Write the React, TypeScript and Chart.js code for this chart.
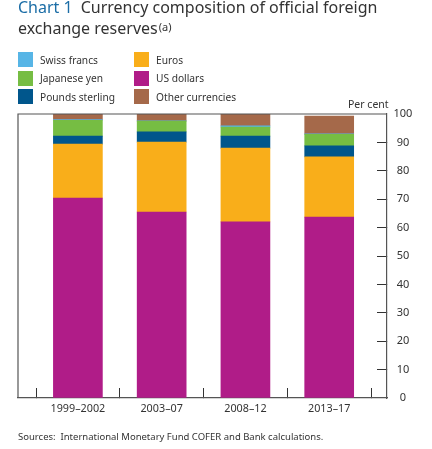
import React, { useEffect, useRef } from 'react';
import { Chart, registerables } from 'chart.js';

Chart.register(...registerables);

const categories = ['1999–2002', '2003–07', '2008–12', '2013–17'];
const usDollars = [70.4, 65.5, 62.0, 63.7];
const euros = [19.0, 24.6, 26.0, 21.2];
const poundsSterling = [2.8, 3.6, 4.2, 3.9];
const japaneseYen = [5.6, 3.8, 3.2, 4.0];
const swissFrancs = [0.2, 0.1, 0.4, 0.2];
const otherCurrencies = [2.0, 2.4, 4.2, 6.3];
const yTickValues = [0, 10, 20, 30, 40, 50, 60, 70, 80, 90, 100];

const seriesNames = ['US dollars', 'Euros', 'Pounds sterling', 'Japanese yen', 'Swiss francs', 'Other currencies'];
const seriesValues = [usDollars, euros, poundsSterling, japaneseYen, swissFrancs, otherCurrencies];
const seriesColors = ['#B01C88', '#F9AE1A', '#00568C', '#76BD43', '#57B5E6', '#A5694A'];

// legend layout: column-major, as in the reference
const legendColumns = [
  ['Swiss francs', 'Japanese yen', 'Pounds sterling'],
  ['Euros', 'US dollars', 'Other currencies'],
];

const FONT = "'Noto Sans', 'Open Sans', sans-serif";

const framePlugin = {
  id: 'frame',
  afterDatasetsDraw(chart: any) {
    const { ctx, chartArea } = chart;
    ctx.save();
    ctx.strokeStyle = '#555';
    ctx.lineWidth = 1.2;
    ctx.beginPath();
    ctx.moveTo(chartArea.left, chartArea.bottom);
    ctx.lineTo(chartArea.left, chartArea.top);
    ctx.lineTo(chartArea.right, chartArea.top);
    ctx.stroke();
    ctx.restore();
  },
};

export default function App() {
  const canvasRef = useRef<HTMLCanvasElement | null>(null);

  useEffect(() => {
    document.body.style.margin = '0';
    const canvas = canvasRef.current;
    if (!canvas) return;
    const chart = new Chart(canvas, {
      type: 'bar',
      data: {
        datasets: seriesNames.map((name, s) => ({
          label: name,
          data: seriesValues[s].map((v, i) => ({ x: i, y: v })),
          backgroundColor: seriesColors[s],
          borderWidth: 0,
          barThickness: 49,
        })),
      },
      options: {
        animation: false,
        responsive: false,
        devicePixelRatio: 1,
        layout: { padding: { left: 18, top: 114, right: 0, bottom: 0 } },
        plugins: { legend: { display: false }, tooltip: { enabled: false } },
        scales: {
          x: {
            type: 'linear',
            stacked: true,
            offset: false,
            min: -0.715,
            max: 3.69,
            afterBuildTicks: (scale: any) => {
              const t: any[] = [];
              for (let i = 0; i < categories.length; i++) {
                t.push({ value: i - 0.5 });
                t.push({ value: i });
              }
              t.push({ value: categories.length - 0.5 });
              scale.ticks = t;
            },
            afterFit: (scale: any) => {
              scale.height = 51;
            },
            ticks: {
              autoSkip: false,
              maxRotation: 0,
              padding: 14,
              color: '#333',
              font: { family: FONT, size: 10.8 },
              callback: (v: any) => (Number.isInteger(v) ? categories[v] : ''),
            },
            grid: {
              offset: false,
              drawOnChartArea: false,
              drawTicks: true,
              tickLength: -10,
              lineWidth: 1,
              tickColor: (ctx: any) =>
                ctx.tick && Number.isInteger(ctx.tick.value) ? 'rgba(0,0,0,0)' : '#333',
            },
            border: { display: true, color: '#555', width: 1.2 },
          },
          y: {
            position: 'right',
            stacked: true,
            min: 0,
            max: 100,
            afterBuildTicks: (scale: any) => {
              scale.ticks = yTickValues.map((v) => ({ value: v }));
            },
            afterFit: (scale: any) => {
              scale.width = 45;
            },
            ticks: {
              padding: 16.5,
              crossAlign: 'center',
              color: '#333',
              font: { family: FONT, size: 11 },
            },
            grid: {
              drawOnChartArea: false,
              drawTicks: true,
              tickLength: -10,
              lineWidth: 1,
              tickColor: (ctx: any) =>
                ctx.tick && (ctx.tick.value === 100 || ctx.tick.value === 0) ? 'rgba(0,0,0,0)' : '#333',
            },
            border: { display: true, color: '#555', width: 1.2 },
          },
        },
      },
      plugins: [framePlugin],
    } as any);
    return () => chart.destroy();
  }, []);

  const colorOf = (name: string) => seriesColors[seriesNames.indexOf(name)];

  return (
    <div style={{ position: 'relative', width: 432, height: 449, background: '#fff', fontFamily: FONT, overflow: 'hidden' }}>
      <canvas ref={canvasRef} width={432} height={449} style={{ position: 'absolute', left: 0, top: 0 }} />
      <div style={{ position: 'absolute', left: 18, top: -3, fontSize: 16, lineHeight: '20.5px', color: '#333', whiteSpace: 'nowrap' }}>
        <span style={{ color: '#1B6DA6' }}>Chart 1</span>
        {'\u2002'}Currency composition of official foreign
        <br />
        exchange reserves
        <span style={{ fontSize: 11, position: 'relative', top: -3, marginLeft: 1 }}>(a)</span>
      </div>
      {legendColumns.map((col, c) => (
        <div key={c} style={{ position: 'absolute', left: c === 0 ? 18 : 134, top: 52 }}>
          {col.map((name) => (
            <div key={name} style={{ display: 'flex', alignItems: 'center', height: 15, marginBottom: 3.5 }}>
              <div style={{ width: 15, height: 15, background: colorOf(name), flex: 'none' }} />
              <span style={{ marginLeft: 7, fontSize: 10.2, color: '#333', whiteSpace: 'nowrap' }}>{name}</span>
            </div>
          ))}
        </div>
      ))}
      <div style={{ position: 'absolute', left: 348, top: 97, fontSize: 10.5, color: '#333', whiteSpace: 'nowrap' }}>Per cent</div>
      <div style={{ position: 'absolute', left: 18, top: 430, fontSize: 9.5, color: '#333', whiteSpace: 'pre' }}>
        {'Sources:  International Monetary Fund COFER and Bank calculations.'}
      </div>
    </div>
  );
}
